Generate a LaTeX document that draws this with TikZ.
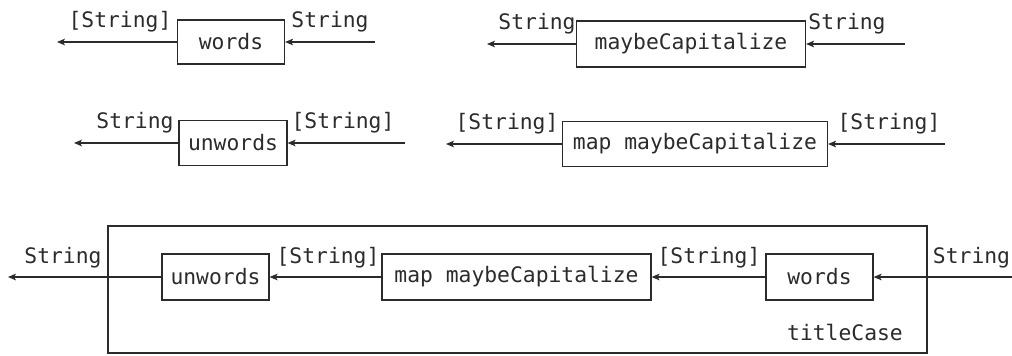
\documentclass[tikz,border=0pt]{standalone}
\usepackage{fontspec}
\setmonofont{DejaVu Sans Mono}
\usepackage{tikz}
\usetikzlibrary{arrows.meta,positioning}
\definecolor{ink}{HTML}{2B2B2B}
\tikzset{
  box/.style={draw=ink,line width=0.9pt,fill=white,inner sep=0pt,font=\ttfamily\fontsize{16}{19}\selectfont,text=ink,minimum height=33pt},
  arr/.style={-{Stealth[length=6pt,width=5pt,inset=1.5pt]},line width=0.9pt,color=ink},
  lbl/.style={anchor=base,inner sep=0pt,font=\ttfamily\fontsize{16}{19}\selectfont,text=ink}}

\begin{document}
\begin{tikzpicture}[x=0.75pt,y=-0.75pt]
\useasboundingbox (0,0) rectangle (1012,355);
% words
\node[box,minimum width=80.25pt] (w) at (231,42) {words};
\coordinate (wout) at (57,42); \coordinate (win) at (375,42);
\draw[arr] (w) -- (wout); \draw[arr] (win) -- (w);
\node[lbl] (wl) at (120,27) {[String]};
\node[lbl] (wr) at (330,27) {String};
% maybeCapitalize
\node[box,minimum width=171.75pt,minimum height=34.5pt] (mc) at (691,44) {maybeCapitalize};
\coordinate (mcout) at (487,44); \coordinate (mcin) at (905,44);
\draw[arr] (mc) -- (mcout); \draw[arr] (mcin) -- (mc);
\node[lbl] (mcl) at (537,29) {String};
\node[lbl] (mcr) at (847,29) {String};
% unwords
\node[box,minimum width=81pt,minimum height=34pt] (u) at (233,143) {unwords};
\coordinate (uout) at (74,143); \coordinate (uin) at (405,143);
\draw[arr] (u) -- (uout); \draw[arr] (uin) -- (u);
\node[lbl] (ul) at (135,128) {String};
\node[lbl] (ur) at (343,128) {[String]};
% map maybeCapitalize
\node[box,minimum width=198.75pt,minimum height=34pt] (m) at (695,144) {map maybeCapitalize};
\coordinate (mout) at (446,144); \coordinate (min) at (945,144);
\draw[arr] (m) -- (mout); \draw[arr] (min) -- (m);
\node[lbl] (ml) at (507,129) {[String]};
\node[lbl] (mr) at (889,129) {[String]};
% titleCase = unwords . map maybeCapitalize . words
\node[box,minimum width=614.25pt,minimum height=95.25pt] (tc) at (517.5,289.5) {};
\node[lbl] (tcl) at (845,340) {titleCase};
\node[box,minimum width=80.25pt,minimum height=34.5pt] (tu) at (215.5,277) {unwords};
\node[box,minimum width=201.75pt,minimum height=34.5pt] (tm) at (516.5,277) {map maybeCapitalize};
\node[box,minimum width=80.25pt,minimum height=34.5pt] (tw) at (819.5,277) {words};
\coordinate (tout) at (8,277); \coordinate (tin) at (1014,277);
\draw[arr] (tin) -- (tw); \draw[arr] (tw) -- (tm); \draw[arr] (tm) -- (tu); \draw[arr] (tu) -- (tout);
\node[lbl] (tl1) at (63,263) {String};
\node[lbl] (tl2) at (328,263) {[String]};
\node[lbl] (tl3) at (709,263) {[String]};
\node[lbl] (tl4) at (971.5,263) {String};
\end{tikzpicture}
\end{document}
